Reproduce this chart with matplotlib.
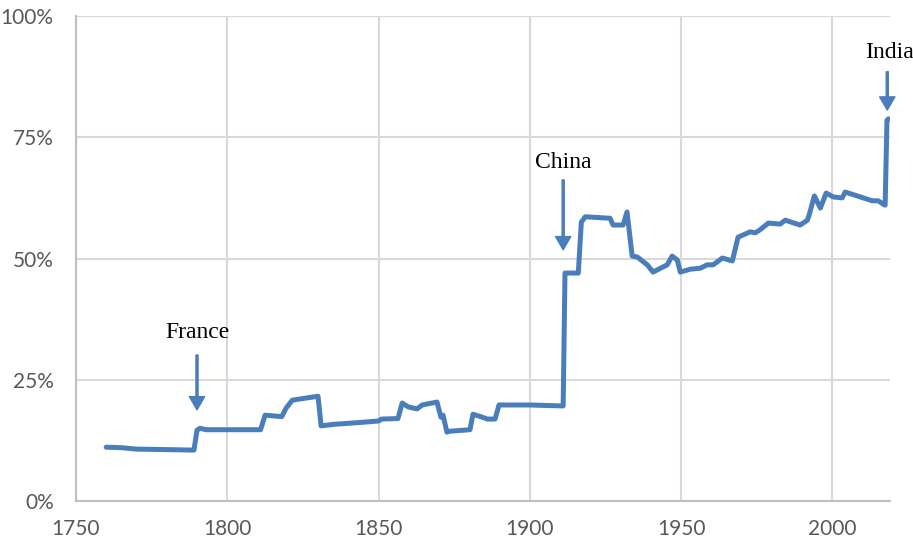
import matplotlib.pyplot as plt
from matplotlib.ticker import FuncFormatter

# year / share (%)
years = [1760, 1765, 1770, 1780, 1789, 1790, 1791, 1793, 1800, 1811,
         1812.5, 1818, 1819.5, 1821.5, 1830, 1831, 1835, 1844, 1850, 1851,
         1856.4, 1857.8, 1859.8, 1862.7, 1864.4, 1869.3, 1870.6, 1871.3, 1872.6, 1873.6,
         1880.2, 1881.2, 1884.2, 1885.9, 1888.5, 1889.8, 1900, 1911, 1911.6, 1916,
         1917, 1918.3, 1926.5, 1927.5, 1930.8, 1932.1, 1933.8, 1935.5, 1938.8, 1940.7,
         1945.4, 1947, 1948.7, 1949.7, 1953, 1956.3, 1958.6, 1960.6, 1963.6, 1966.9,
         1968.8, 1972.8, 1974.5, 1976, 1978.8, 1982.7, 1984.4, 1989.3, 1991.7, 1992.3,
         1994, 1996, 1997.9, 2000.2, 2003.2, 2004.2, 2008.2, 2013.1, 2015.1, 2016.8,
         2017.4, 2018, 2018.5]
share = [11.1, 11.0, 10.7, 10.6, 10.5, 14.6, 15.0, 14.7, 14.7, 14.7,
         17.7, 17.4, 19.2, 20.8, 21.6, 15.5, 15.8, 16.2, 16.5, 16.9,
         17.0, 20.2, 19.4, 19.0, 19.8, 20.4, 17.3, 17.7, 14.2, 14.4,
         14.7, 17.9, 17.3, 16.9, 16.9, 19.8, 19.8, 19.6, 47.0, 47.0,
         57.5, 58.6, 58.3, 56.9, 56.9, 59.6, 50.5, 50.3, 48.7, 47.2,
         48.7, 50.5, 49.7, 47.2, 47.8, 48.0, 48.7, 48.7, 50.1, 49.5,
         54.4, 55.5, 55.3, 55.9, 57.3, 57.1, 57.9, 56.9, 57.9, 59.0,
         62.9, 60.4, 63.5, 62.7, 62.5, 63.7, 62.9, 61.9, 61.9, 61.2,
         61.0, 78.5, 78.8]

# labels: text, x, arrow tail y, arrow head y, text y
notes = [("France", 1790, 30.1, 18.8, 34.8),
         ("China", 1911, 66.2, 51.8, 69.8),
         ("India", 2018.8, 88.5, 80.6, 92.4)]

blue = '#4a7ebb'
fig = plt.figure(figsize=(9.13, 5.44), dpi=100)
ax = fig.add_axes([0.0832, 0.079, 0.8916, 0.8916])

ax.plot(years, share, color=blue, lw=3.6, solid_joinstyle='round', solid_capstyle='round', zorder=3)

for txt, x, y0, y1, yt in notes:
    ax.annotate('', xy=(x if txt != "India" else 2018.1, y1),
                xytext=(x if txt != "India" else 2018.1, y0),
                arrowprops=dict(facecolor=blue, edgecolor=blue, width=1.5,
                                headwidth=11, headlength=9.5, shrink=0),
                annotation_clip=False)
    ax.text(x, yt, txt, ha='center', va='center', fontsize=17,
            family='Liberation Serif', color='black', clip_on=False)

ax.set_xlim(1750, 2019)
ax.set_ylim(0, 100)
ax.set_xticks([1750, 1800, 1850, 1900, 1950, 2000])
ax.set_yticks([0, 25, 50, 75, 100])
ax.yaxis.set_major_formatter(FuncFormatter(lambda v, p: '%d%%' % v))

ax.grid(True, color='#d9d9d9', lw=1.5)
ax.set_axisbelow(True)
for s in ['top', 'right']:
    ax.spines[s].set_visible(False)
for s in ['left', 'bottom']:
    ax.spines[s].set_color('#bfbfbf')
    ax.spines[s].set_linewidth(1.5)
ax.tick_params(length=0, labelsize=15, labelcolor='#595959')
ax.tick_params(axis='y', pad=16)
ax.tick_params(axis='x', pad=13)
for lab in ax.get_xticklabels() + ax.get_yticklabels():
    lab.set_family('Lato')

plt.savefig('out.png')
